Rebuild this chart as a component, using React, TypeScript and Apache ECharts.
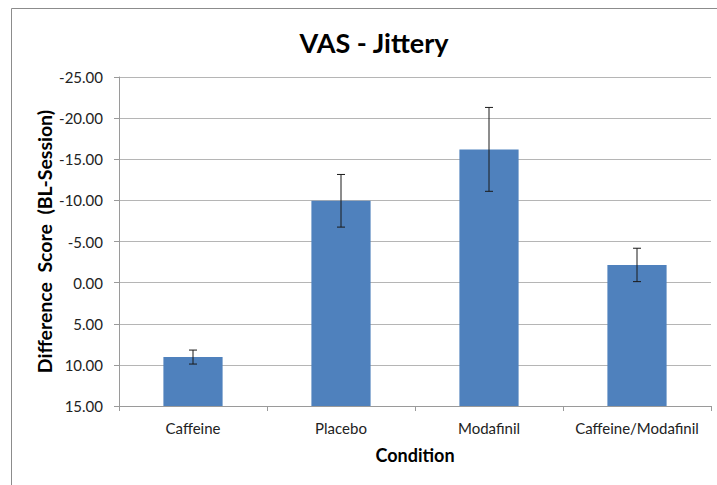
import React, { useEffect, useRef } from "react";
import * as echarts from "echarts";

const categories = ["Caffeine", "Placebo", "Modafinil", "Caffeine/Modafinil"];
const meanValues = [9.05, -9.95, -16.2, -2.15];
const errorValues = [0.85, 3.2, 5.1, 2.03];
const axisMin = -25;
const axisMax = 15;
const axisStep = 5;

const FONT = "Lato, 'Open Sans', sans-serif";

export default function App() {
  const ref = useRef<HTMLDivElement>(null);

  useEffect(() => {
    if (!ref.current) return;
    const chart = echarts.init(ref.current, null, { renderer: "svg" });

    const barData = categories.map((_, i) => [i, meanValues[i]]);
    const errData = categories.map((_, i) => [
      i,
      meanValues[i] - errorValues[i],
      meanValues[i] + errorValues[i],
    ]);

    chart.setOption({
      animation: false,
      backgroundColor: "#ffffff",
      textStyle: { fontFamily: FONT },
      title: {
        text: "VAS - Jittery",
        left: 369,
        top: 24,
        textAlign: "center",
        textStyle: { fontFamily: FONT, fontSize: 27, fontWeight: "bold", color: "#000" },
      },
      graphic: [
        {
          type: "rect",
          shape: { x: 11.5, y: 8.5, width: 760, height: 520 },
          style: { fill: "none", stroke: "#8c8c8c", lineWidth: 1 },
          silent: true,
        },
      ],
      grid: { left: 119, right: 6, top: 77, bottom: 79 },
      xAxis: {
        type: "category",
        data: categories,
        name: "Condition",
        nameLocation: "middle",
        nameGap: 40,
        nameMoveOverlap: false,
        nameTextStyle: { fontFamily: FONT, fontSize: 18, fontWeight: "bold", color: "#000" },
        axisLine: { show: true, onZero: false, lineStyle: { color: "#9a9a9a" } },
        axisTick: { show: true, interval: 0, length: 5, lineStyle: { color: "#9a9a9a" } },
        axisLabel: { fontFamily: FONT, fontSize: 15, color: "#222", margin: 14, interval: 0 },
        splitLine: { show: false },
      },
      yAxis: {
        type: "value",
        inverse: true,
        min: axisMin,
        max: axisMax,
        interval: axisStep,
        name: "Difference  Score  (BL-Session)",
        nameLocation: "middle",
        nameGap: 65,
        nameMoveOverlap: false,
        nameTextStyle: { fontFamily: FONT, fontSize: 19.5, fontWeight: "bold", color: "#000" },
        axisLine: { show: true, lineStyle: { color: "#9a9a9a" } },
        axisTick: { show: true, length: 5, lineStyle: { color: "#9a9a9a" } },
        axisLabel: {
          fontFamily: FONT,
          fontSize: 15,
          color: "#222",
          margin: 16,
          formatter: (v: number) => v.toFixed(2),
        },
        splitLine: { show: true, lineStyle: { color: "#b5b5b5", width: 1 } },
      },
      series: [
        {
          type: "custom",
          name: "bars",
          data: barData,
          encode: { x: 0, y: 1 },
          renderItem: (params: any, api: any) => {
            const idx = api.value(0);
            const val = api.value(1);
            const base = api.coord([idx, axisMax]);
            const top = api.coord([idx, val]);
            const bandW = api.size([1, 0])[0];
            const w = bandW * 0.4;
            return {
              type: "rect",
              shape: {
                x: base[0] - w / 2,
                y: Math.min(base[1], top[1]),
                width: w,
                height: Math.abs(base[1] - top[1]),
              },
              style: { fill: "#4F81BD" },
            };
          },
          z: 2,
        },
        {
          type: "custom",
          name: "errors",
          data: errData,
          encode: { x: 0, y: [1, 2] },
          renderItem: (params: any, api: any) => {
            const idx = api.value(0);
            const lo = api.coord([idx, api.value(1)]);
            const hi = api.coord([idx, api.value(2)]);
            const cap = 4;
            const style = { stroke: "#1a1a1a", lineWidth: 1 };
            return {
              type: "group",
              children: [
                { type: "line", shape: { x1: lo[0], y1: lo[1], x2: hi[0], y2: hi[1] }, style },
                { type: "line", shape: { x1: lo[0] - cap, y1: lo[1], x2: lo[0] + cap, y2: lo[1] }, style },
                { type: "line", shape: { x1: hi[0] - cap, y1: hi[1], x2: hi[0] + cap, y2: hi[1] }, style },
              ],
            };
          },
          z: 3,
        },
      ],
    });

    return () => chart.dispose();
  }, []);

  return (
    <div
      ref={ref}
      style={{ position: "fixed", left: 0, top: 0, width: 717, height: 485 }}
    />
  );
}
